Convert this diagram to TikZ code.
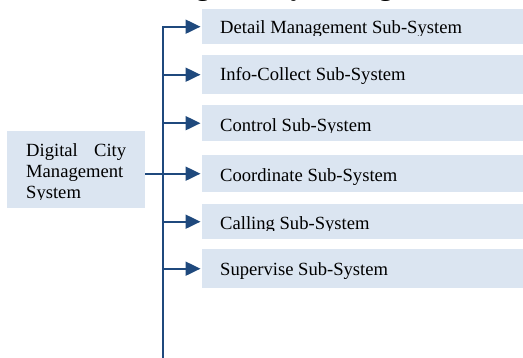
\documentclass[tikz,border=0pt]{standalone}
\usepackage{fontspec}
\setmainfont{Liberation Serif}
\usetikzlibrary{arrows.meta}
\definecolor{boxfill}{HTML}{DBE5F1}
\definecolor{linecol}{HTML}{1F497D}
\begin{document}
\begin{tikzpicture}[x=1pt,y=-1pt,
  sbox/.style={fill=boxfill, draw=none, inner sep=0pt, anchor=north west},
  lbl/.style={anchor=base west, inner sep=0pt, font=\fontsize{18.6}{21}\selectfont},
  conn/.style={draw=linecol, line width=2pt},
  arr/.style={conn, -{Triangle[length=15pt,width=14pt]}, shorten >=1.5pt}]
\clip (0,0) rectangle (523,358);
% title (mostly outside the picture, as in the reference)
\node[anchor=base west, inner sep=0pt, font=\bfseries\fontsize{27.2}{30}\selectfont] (title) at (169,-4.5) {Digital City Management};
% boxes
\node[sbox, minimum width=340pt, minimum height=35pt] (b1) at (202,9) {};
\node[sbox, minimum width=340pt, minimum height=39pt] (b2) at (202,55) {};
\node[sbox, minimum width=340pt, minimum height=36pt] (b3) at (202,105) {};
\node[sbox, minimum width=340pt, minimum height=37pt] (b4) at (202,155) {};
\node[sbox, minimum width=340pt, minimum height=35pt] (b5) at (202,204) {};
\node[sbox, minimum width=340pt, minimum height=39pt] (b6) at (202,249) {};
\node[sbox, minimum width=138pt, minimum height=77pt] (main) at (7,131) {};
% labels
\begin{scope}
  \clip (202,9) rectangle (523,36);
  \node[lbl] (t1) at (220,34) {Detail Management Sub-System};
\end{scope}
\node[lbl] (t2) at (220,80.7) {Info-Collect Sub-System};
\begin{scope}
  \clip (202,105) rectangle (523,133);
  \node[lbl] (t3) at (220,131.7) {Control Sub-System};
\end{scope}
\node[lbl] (t4) at (220,182) {Coordinate Sub-System};
\begin{scope}
  \clip (202,204) rectangle (523,231);
  \node[lbl] (t5) at (220,230) {Calling Sub-System};
\end{scope}
\node[lbl] (t6) at (220,275.7) {Supervise Sub-System};
\begin{scope}
  \clip (7,131) rectangle (145,200);
  \node[lbl] (tm) at (26,156.7) {\parbox[t]{100pt}{\fontsize{18.6}{21}\selectfont Digital\hfill City\\Management\\System}};
\end{scope}
% connectors
\path (b1.west) ++(-39pt,0) coordinate (ttop);
\coordinate (tbot) at (ttop |- 0,370);
\draw[arr] (tbot) -- (ttop) -- (b1.west);
\draw[arr] (ttop |- b2.west) -- (b2.west);
\draw[arr] (ttop |- b3.west) -- (b3.west);
\draw[arr] (main.east |- b4.west) -- (b4.west);
\draw[arr] (ttop |- b5.west) -- (b5.west);
\draw[arr] (ttop |- b6.west) -- (b6.west);
\end{tikzpicture}
\end{document}
